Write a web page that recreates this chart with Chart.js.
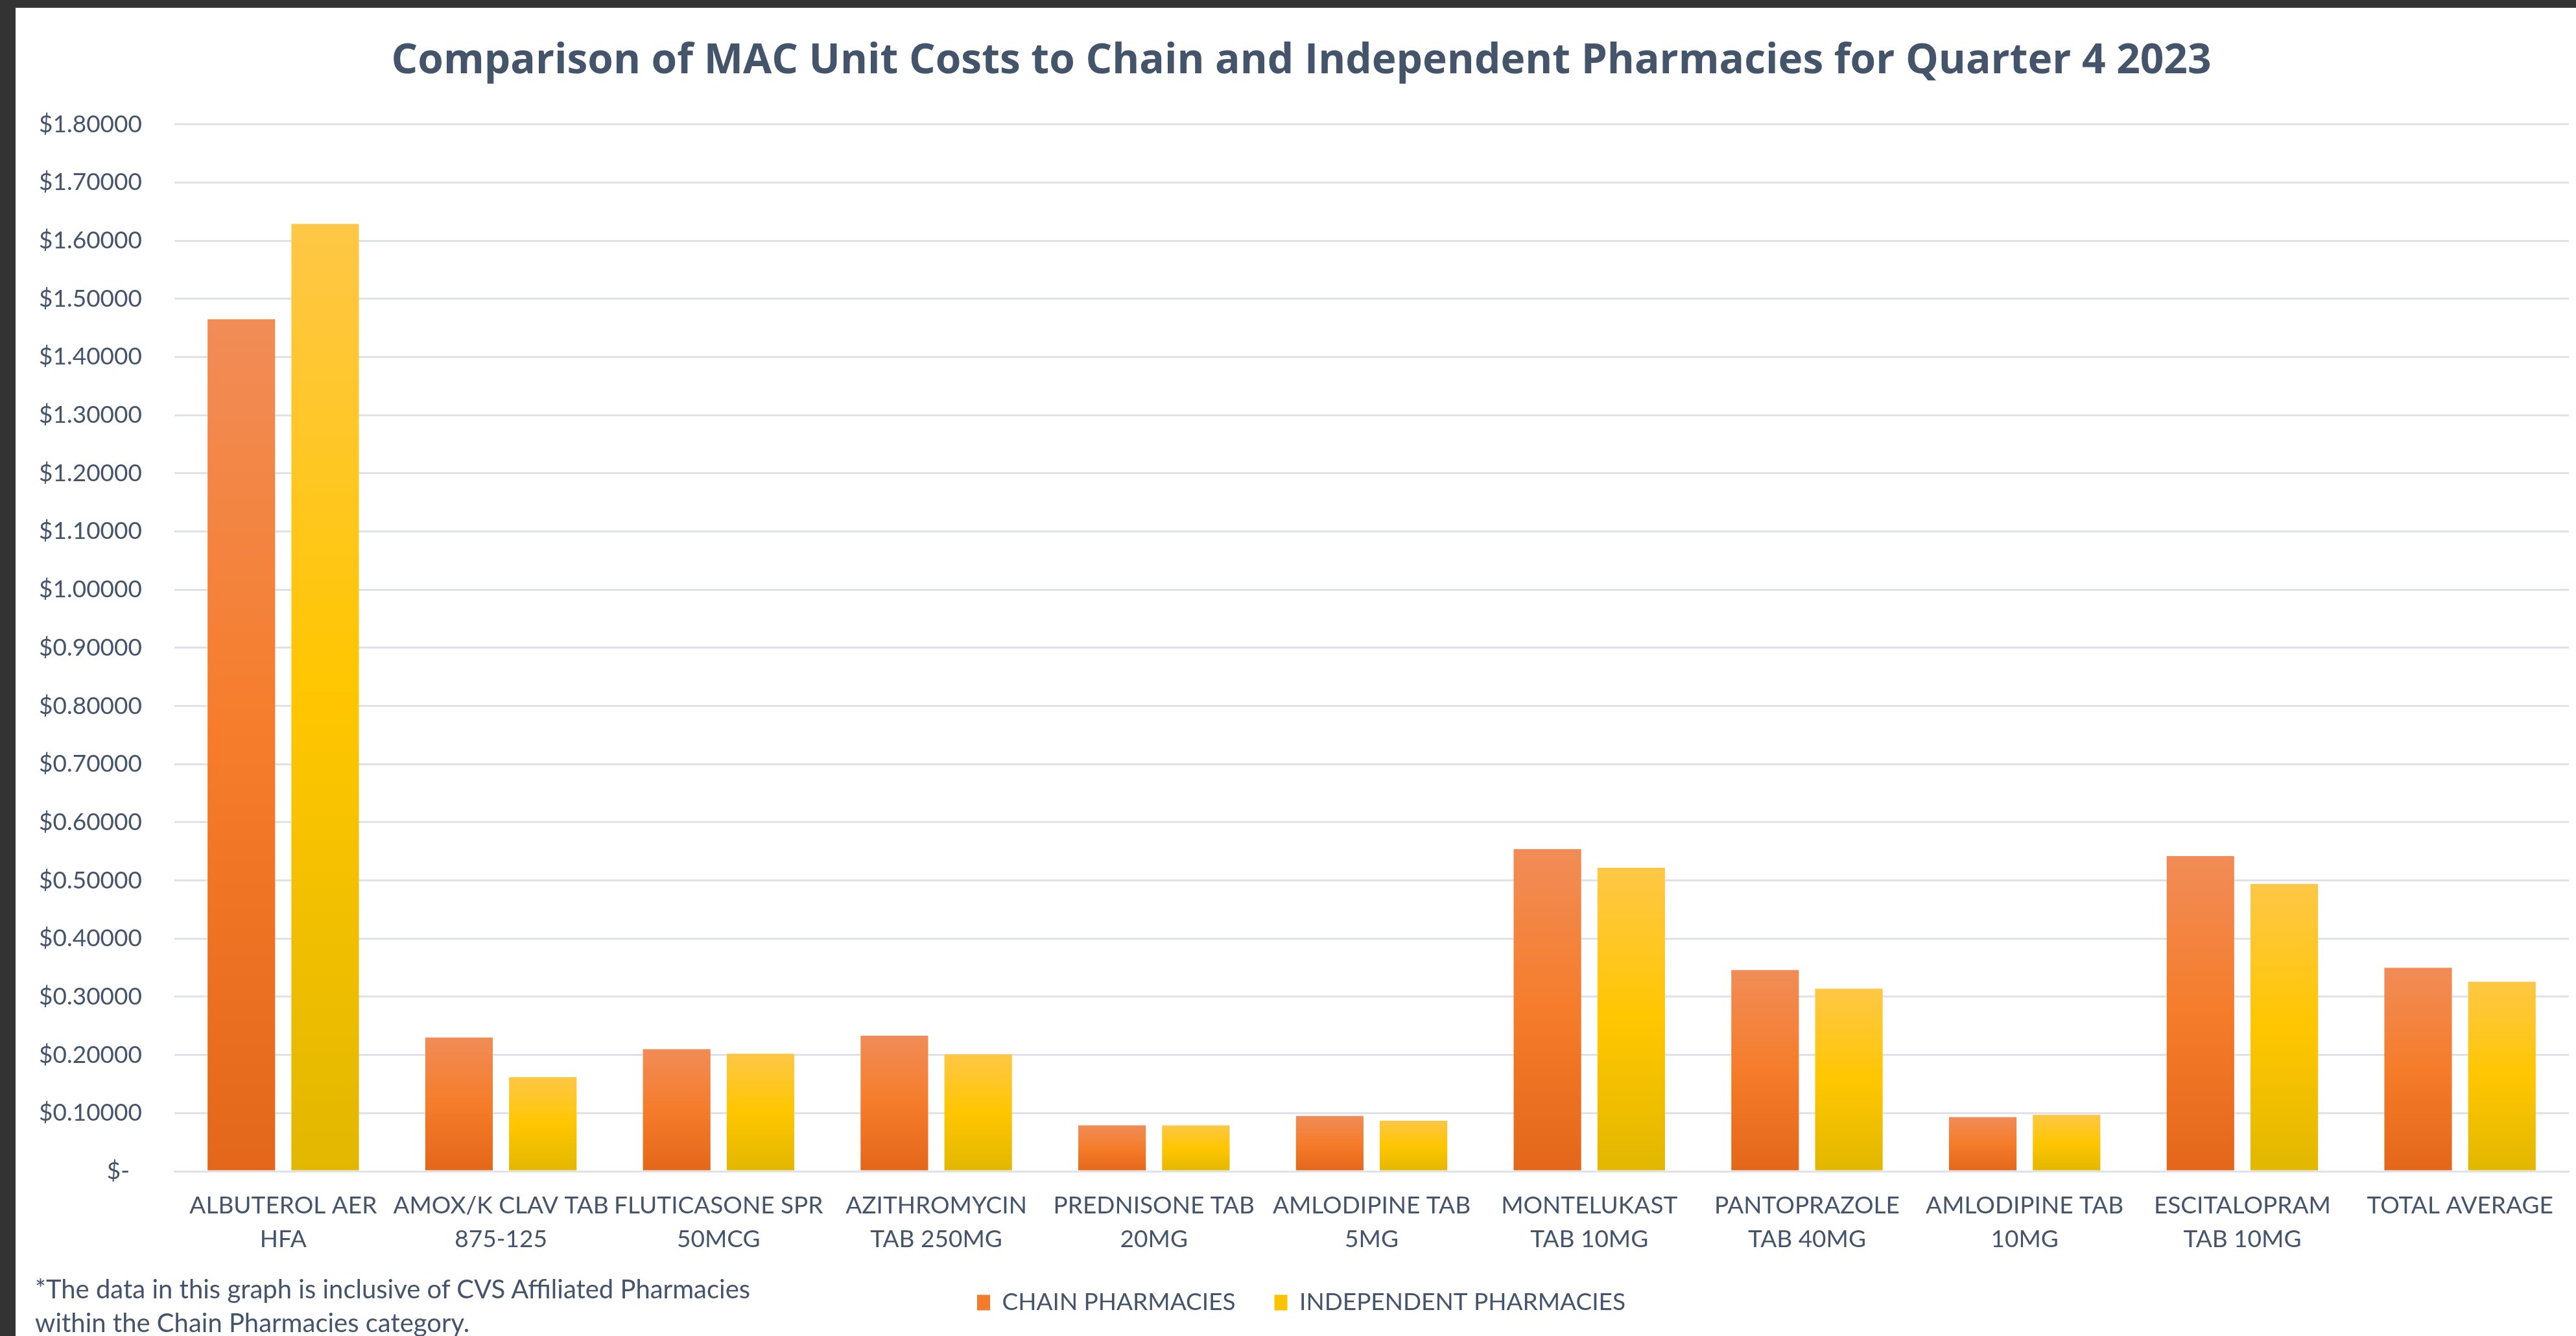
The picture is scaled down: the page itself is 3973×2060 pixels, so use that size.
<!DOCTYPE html>
<html>
<head>
<meta charset="utf-8">
<title>MAC Unit Costs Q4 2023</title>
<script src="https://cdn.jsdelivr.net/npm/chart.js@4.4.1/dist/chart.umd.min.js"></script>
<style>
  html, body { margin: 0; padding: 0; background: #333333; overflow: hidden; }
  #wrap { position: absolute; left: 24px; top: 12px; width: 3949px; height: 2048px; background: #ffffff; }
  #note { position: absolute; left: 30px; top: 1949px; font-family: Lato, sans-serif; font-size: 40px; line-height: 52px; color: #44546A; pointer-events: none; }
</style>
</head>
<body>
<div id="wrap">
  <canvas id="macChart"></canvas>
  <div id="note">*The data in this graph is inclusive of CVS Affiliated Pharmacies<br>within the Chain Pharmacies category.</div>
</div>
<script>
const drugs = [
  ['ALBUTEROL AER', 'HFA'],
  ['AMOX/K CLAV TAB', '875-125'],
  ['FLUTICASONE SPR', '50MCG'],
  ['AZITHROMYCIN', 'TAB 250MG'],
  ['PREDNISONE TAB', '20MG'],
  ['AMLODIPINE TAB', '5MG'],
  ['MONTELUKAST', 'TAB 10MG'],
  ['PANTOPRAZOLE', 'TAB 40MG'],
  ['AMLODIPINE TAB', '10MG'],
  ['ESCITALOPRAM', 'TAB 10MG'],
  'TOTAL AVERAGE'
];
const chainCost = [1.465, 0.230, 0.210, 0.233, 0.079, 0.095, 0.554, 0.346, 0.093, 0.542, 0.350];
const indepCost = [1.629, 0.162, 0.202, 0.201, 0.079, 0.087, 0.522, 0.314, 0.097, 0.494, 0.326];

const textColor = '#44546A';
const gridColor = '#DFE3E9';
// light top -> base -> darker bottom, like the excel gradient fill
const chainStops = ['#F18C57', '#F57C2A', '#E3671A'];
const indepStops = ['#FEC746', '#FFC600', '#E2B700'];

function barFill(stops) {
  return function (ctx) {
    const chart = ctx.chart;
    if (ctx.type !== 'data' || !chart.chartArea) return stops[1];
    const y = chart.scales.y;
    const top = y.getPixelForValue(ctx.raw);
    const bottom = y.getPixelForValue(0);
    const g = chart.ctx.createLinearGradient(0, top, 0, bottom);
    g.addColorStop(0, stops[0]);
    g.addColorStop(0.5, stops[1]);
    g.addColorStop(1, stops[2]);
    return g;
  };
}

const canvas = document.getElementById('macChart');
canvas.width = 3949;
canvas.height = 2048;

const data = {
  labels: drugs,
  datasets: [
    {
      label: 'CHAIN PHARMACIES',
      data: chainCost,
      backgroundColor: barFill(chainStops),
      borderWidth: 0,
      categoryPercentage: 0.77,
      barPercentage: 0.806
    },
    {
      label: 'INDEPENDENT PHARMACIES',
      data: indepCost,
      backgroundColor: barFill(indepStops),
      borderWidth: 0,
      categoryPercentage: 0.77,
      barPercentage: 0.806
    }
  ]
};

const config = {
  type: 'bar',
  data,
  options: {
    responsive: false,
    animation: false,
    layout: { padding: { left: 28, right: 11, top: 0, bottom: 23 } },
    plugins: {
      title: {
        display: true,
        text: 'Comparison of MAC Unit Costs to Chain and Independent Pharmacies for Quarter 4 2023',
        color: textColor,
        font: { family: 'Open Sans', size: 64, weight: 'bold', lineHeight: 1.2 },
        padding: { top: 44, bottom: 59 }
      },
      legend: {
        position: 'bottom',
        labels: {
          color: textColor,
          font: { family: 'Lato', size: 37 },
          boxWidth: 20,
          boxHeight: 24,
          padding: 60,
          generateLabels: function (chart) {
            return chart.data.datasets.map(function (ds, i) {
              return {
                text: ds.label,
                fillStyle: i === 0 ? '#F27B2C' : '#FAC300',
                strokeStyle: 'transparent',
                lineWidth: 0,
                fontColor: textColor,
                datasetIndex: i
              };
            });
          }
        }
      },
      tooltip: { enabled: false }
    },
    scales: {
      x: {
        grid: { display: false, drawTicks: false },
        border: { display: true, color: gridColor, width: 3 },
        ticks: {
          color: textColor,
          font: { family: 'Lato', size: 37, lineHeight: 1.38 },
          padding: 28,
          maxRotation: 0,
          autoSkip: false
        },
        afterFit: function (scale) { scale.height = 124; }
      },
      y: {
        min: 0,
        max: 1.8,
        grid: { color: gridColor, lineWidth: 3, drawTicks: false },
        border: { display: false },
        ticks: {
          stepSize: 0.1,
          color: textColor,
          font: { family: 'Lato', size: 37 },
          padding: 50,
          callback: function (v) { return v === 0 ? '$-  ' : '$' + v.toFixed(5); }
        },
        afterFit: function (scale) { scale.width = 217; }
      }
    }
  }
};

document.fonts.ready.then(function () {
  new Chart(canvas, config);
});
</script>
</body>
</html>
